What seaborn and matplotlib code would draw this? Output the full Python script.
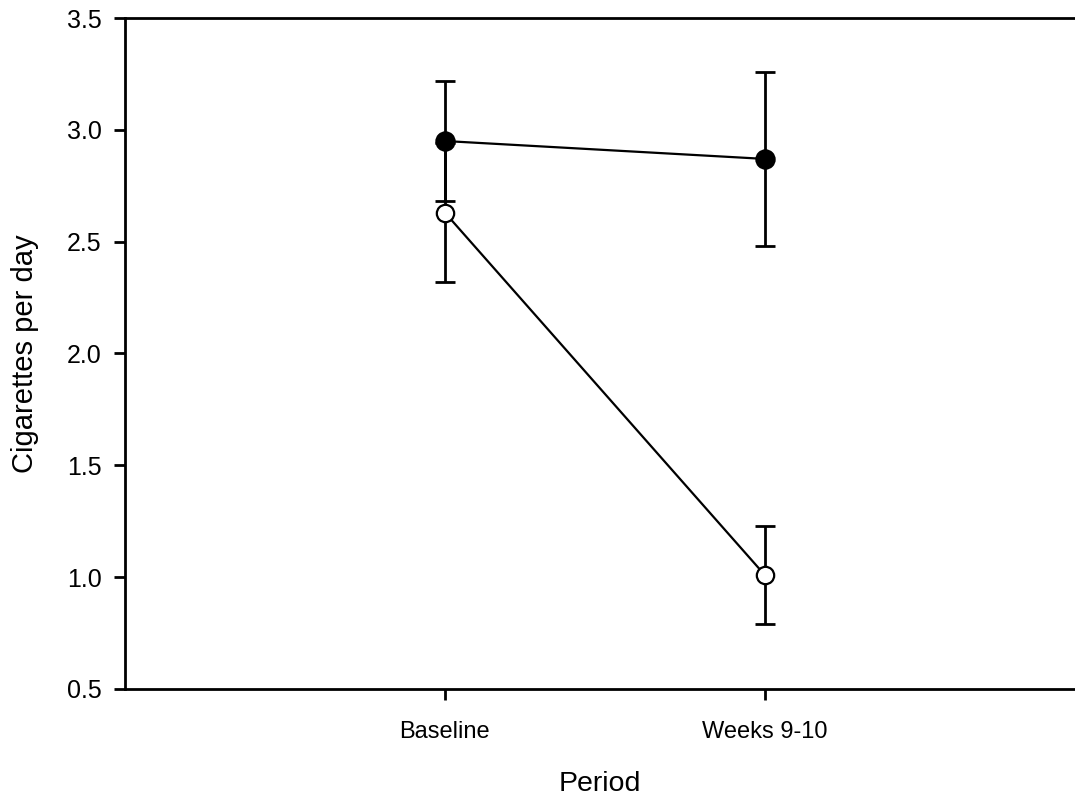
import matplotlib
matplotlib.use("Agg")
import matplotlib.pyplot as plt
import seaborn as sns
import pandas as pd

periods = ["Baseline", "Weeks 9-10"]
group_filled = [2.95, 2.87]
group_filled_err = [0.27, 0.39]
group_open = [2.63, 1.01]
group_open_err = [0.31, 0.22]

sns.set_theme(style="white")
plt.rcParams['font.family'] = ['Liberation Sans', 'DejaVu Sans']

fig = plt.figure(figsize=(10.75, 8.02), dpi=100)
ax = fig.add_axes([125/1075, 1-689/802, 1-125/1075, (689-18)/802])

df = pd.DataFrame({
    "Period": periods * 2,
    "value": group_filled + group_open,
    "group": ["filled"] * 2 + ["open"] * 2,
})

xpos = list(range(len(periods)))

# error bars
ax.errorbar(xpos, group_filled, yerr=group_filled_err, fmt="none",
            ecolor="black", elinewidth=2, capsize=7.5, capthick=2, zorder=2)
ax.errorbar(xpos, group_open, yerr=group_open_err, fmt="none",
            ecolor="black", elinewidth=2, capsize=7.5, capthick=2, zorder=2)

sns.lineplot(data=df[df.group == "filled"], x="Period", y="value", ax=ax,
             color="black", linewidth=1.6, marker="o", markersize=13.5,
             markerfacecolor="black", markeredgecolor="black",
             markeredgewidth=1.2, zorder=3)
sns.lineplot(data=df[df.group == "open"], x="Period", y="value", ax=ax,
             color="black", linewidth=1.6, marker="o", markersize=12.5,
             markerfacecolor="white", markeredgecolor="black",
             markeredgewidth=1.6, zorder=4)

ax.set_xlim(-1, 1.97)
ax.set_ylim(0.5, 3.5)
ax.set_xticks(xpos)
ax.set_xticklabels(periods, fontsize=17)
ax.set_yticks([0.5, 1.0, 1.5, 2.0, 2.5, 3.0, 3.5])
ax.set_yticklabels(["0.5", "1.0", "1.5", "2.0", "2.5", "3.0", "3.5"], fontsize=18)
ax.set_xlabel("Period", fontsize=20.5, labelpad=20, color="black")
ax.set_ylabel("Cigarettes per day", fontsize=21, labelpad=20, color="black")

for s in ["left", "bottom", "top"]:
    ax.spines[s].set_visible(True)
    ax.spines[s].set_color("black")
    ax.spines[s].set_linewidth(2)
ax.spines["right"].set_visible(False)
ax.tick_params(axis="both", direction="out", length=8, width=2, color="black",
               bottom=True, left=True, top=False, right=False, labelcolor="black")
ax.tick_params(axis="x", pad=15)
ax.tick_params(axis="y", pad=9)
ax.grid(False)

fig.savefig("out.png", dpi=100)
